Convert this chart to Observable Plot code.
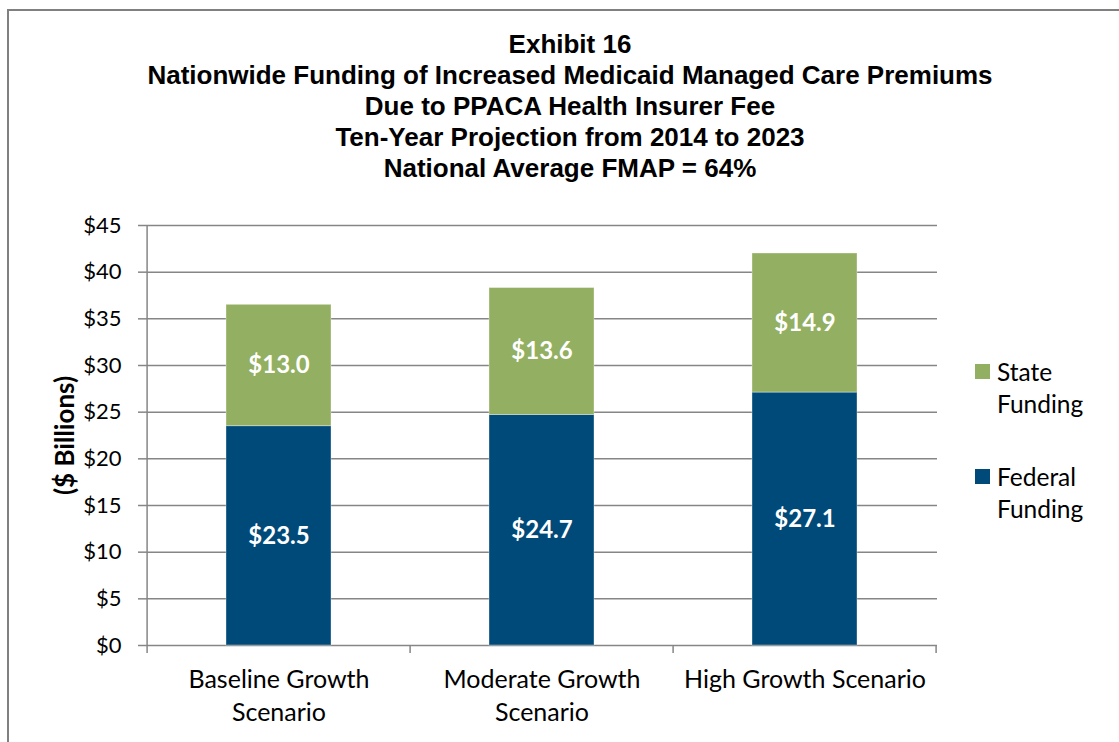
<!DOCTYPE html>
<html>
<head>
<meta charset="utf-8">
<script src="https://cdn.jsdelivr.net/npm/d3@7"></script>
<script src="https://cdn.jsdelivr.net/npm/@observablehq/plot@0.6"></script>
<style>
  html, body { margin: 0; padding: 0; background: #fff; }
  #wrap { position: relative; width: 1119px; height: 742px; overflow: hidden; background: #fff; }
  #border { position: absolute; left: 7px; top: 9px; width: 1200px; height: 800px; border-left: 2px solid #808080; border-top: 2px solid #808080; }
  #title { position: absolute; left: 0; top: 29px; width: 1140px; text-align: center; font-family: "Liberation Sans", Arial, sans-serif; font-weight: bold; font-size: 26px; line-height: 31px; color: #000; }
  #chart { position: absolute; left: 0; top: 200px; }
  .leg { position: absolute; font-family: Lato, "Open Sans", sans-serif; font-size: 24.5px; line-height: 32px; color: #000; }
  .sw { position: absolute; width: 15px; height: 15px; }
</style>
</head>
<body>
<div id="wrap">
  <div id="border"></div>
  <div id="title"></div>
  <div id="chart"></div>
  <div id="legend"></div>
</div>
<script>
const titleLines = [
  "Exhibit 16",
  "Nationwide Funding of Increased Medicaid Managed Care Premiums",
  "Due to PPACA Health Insurer Fee",
  "Ten-Year Projection from 2014 to 2023",
  "National Average FMAP = 64%"
];
const scenarios = ["Baseline Growth\nScenario", "Moderate Growth\nScenario", "High Growth Scenario"];
const seriesNames = ["Federal Funding", "State Funding"];
const federalValues = [23.5, 24.7, 27.1];
const stateValues = [13.0, 13.6, 14.9];
const yTicks = [0, 5, 10, 15, 20, 25, 30, 35, 40, 45];
const yLabel = "($ Billions)";
const colors = ["#004A7A", "#93AF61"];

document.getElementById("title").innerHTML = titleLines.map(t => `<div>${t}</div>`).join("");

const rows = [];
scenarios.forEach((s, i) => {
  rows.push({scenario: s, type: seriesNames[0], value: federalValues[i]});
  rows.push({scenario: s, type: seriesNames[1], value: stateValues[i]});
});

const axisColor = "#868686";
const font = "Lato, 'Open Sans', sans-serif";
const padInner = 0.6;

// category boundary ticks and y axis line, derived from the x band scale
function boundaryMark(index, scales) {
  const x = scales.x, y = scales.y;
  const step = x(scenarios[1]) - x(scenarios[0]);
  const bw = step * (1 - padInner);
  const g = d3.create("svg:g").attr("stroke", axisColor).attr("stroke-width", 1.5);
  const xs = scenarios.map(s => x(s) + bw / 2 - step / 2);
  xs.push(x(scenarios[scenarios.length - 1]) + bw / 2 + step / 2);
  const y0 = y(0);
  xs.forEach(px => {
    g.append("line").attr("x1", px).attr("x2", px).attr("y1", y0).attr("y2", y0 + 8);
  });
  g.append("line").attr("x1", xs[0]).attr("x2", xs[0]).attr("y1", y(45)).attr("y2", y0);
  return g.node();
}

const plot = Plot.plot({
  width: 1119,
  height: 542,
  marginTop: 25,
  marginBottom: 97,
  marginLeft: 147,
  marginRight: 182,
  style: {fontFamily: font, fontSize: "22px", color: "#000", background: "transparent"},
  x: {domain: scenarios, paddingInner: padInner, paddingOuter: 0.3, label: null},
  y: {domain: [0, 45], label: null},
  color: {domain: seriesNames, range: colors},
  marks: [
    Plot.ruleY(yTicks, {stroke: axisColor, strokeWidth: 1.5}),
    Plot.axisY({ticks: yTicks, tickFormat: d => "$" + d, tickSize: 9, tickPadding: 17, stroke: axisColor, strokeWidth: 1.5, fontSize: 22, label: null}),
    Plot.axisX({tickSize: 0, tickPadding: 19, fontSize: 25, label: null, lineHeight: 1.32}),
    Plot.barY(rows, {x: "scenario", y: "value", fill: "type", stroke: "#ffffff", strokeOpacity: 0.35, strokeWidth: 1}),
    Plot.text(rows, Plot.stackY({x: "scenario", y: "value", text: d => "$" + d.value.toFixed(1), fill: "white", fontWeight: "bold", fontSize: 24})),
    boundaryMark,
    Plot.text([yLabel], {frameAnchor: "left", textAnchor: "middle", rotate: -90, dx: -82, text: d => d, fontWeight: "bold", fontSize: 26})
  ]
});
document.getElementById("chart").appendChild(plot);

// legend (State on top, Federal below)
const legendItems = [
  {name: seriesNames[1], color: colors[1], top: 356},
  {name: seriesNames[0], color: colors[0], top: 461}
];
const leg = document.getElementById("legend");
legendItems.forEach(it => {
  const parts = it.name.split(" ");
  const sw = document.createElement("div");
  sw.className = "sw";
  sw.style.left = "975px";
  sw.style.top = (it.top + 8) + "px";
  sw.style.background = it.color;
  leg.appendChild(sw);
  const t = document.createElement("div");
  t.className = "leg";
  t.style.left = "997px";
  t.style.top = it.top + "px";
  t.innerHTML = parts.join("<br>");
  leg.appendChild(t);
});
</script>
</body>
</html>
